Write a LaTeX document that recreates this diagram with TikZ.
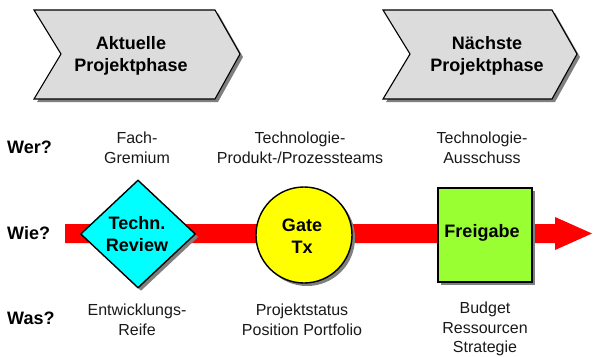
\documentclass[tikz,border=0pt]{standalone}
\usepackage{fontspec}
\setmainfont{Liberation Sans}
\usetikzlibrary{shapes.geometric}
\definecolor{chevgray}{HTML}{DCDCDC}
\definecolor{shadowgray}{HTML}{7F7F7F}
\definecolor{cyanfill}{HTML}{00FFFF}
\definecolor{yellowfill}{HTML}{FFFF00}
\definecolor{greenfill}{HTML}{99FF33}
\definecolor{redarrow}{HTML}{FF0000}
\tikzset{
  boldtxt/.style={font=\fontsize{18}{22}\selectfont\bfseries, align=center, inner sep=0pt},
  regtxt/.style={font=\fontsize{16}{20}\selectfont, align=center, inner sep=0pt, text=black!90},
  shadowed/.style={preaction={fill=shadowgray, transform canvas={shift={(3pt,-3pt)}}}},
  shapeline/.style={draw=black, line width=1.4pt},
}
\begin{document}
\begin{tikzpicture}[x=1pt,y=-1pt]
\useasboundingbox (0,0) rectangle (593,356);
% chevrons
\fill[shadowgray] (37,13) -- (218,13) -- (243,57) -- (218,102) -- (37,102) -- (64,57) -- cycle;
\draw[shapeline, line width=1.1pt, fill=chevgray] (34,10) -- (215,10) -- (240,54) -- (215,99) -- (34,99) -- (61,54) -- cycle;
\fill[shadowgray] (386,13) -- (555,13) -- (580,57) -- (555,102) -- (386,102) -- (413,57) -- cycle;
\draw[shapeline, line width=1.1pt, fill=chevgray] (383,10) -- (552,10) -- (577,54) -- (552,99) -- (383,99) -- (410,54) -- cycle;
\node[boldtxt] (phase1) at (131,56) {Aktuelle\\Projektphase};
\node[boldtxt] (phase2) at (487,56) {Nächste\\Projektphase};
% row labels
\node[boldtxt, anchor=west] (wer) at (7,147) {Wer?};
\node[boldtxt, anchor=west] (wie) at (7,233) {Wie?};
\node[boldtxt, anchor=west] (was) at (7,318) {Was?};
% who texts
\node[regtxt] (who1) at (137,148) {Fach-\\Gremium};
\node[regtxt] (who2) at (300,148) {Technologie-\\Produkt-/Prozessteams};
\node[regtxt] (who3) at (482,148) {Technologie-\\Ausschuss};
% red arrow
\fill[redarrow] (65,224) -- (555,224) -- (555,217) -- (592,233.5) -- (555,250) -- (555,243) -- (65,243) -- cycle;
% diamond
\node[diamond, shapeline, fill=cyanfill, shadowed, inner sep=0pt, aspect=1.05,
      minimum width=115pt, minimum height=108pt] (review) at (138,234) {};
\node[boldtxt] (reviewtxt) at (137,234) {Techn.\\Review};
% circle
\node[circle, shapeline, fill=yellowfill, shadowed, inner sep=0pt, minimum size=96pt] (gate) at (304,235) {};
\node[boldtxt] (gatetxt) at (302,236) {Gate\\Tx};
% square
\node[rectangle, shapeline, fill=greenfill, shadowed, inner sep=0pt, minimum size=94pt] (freigabe) at (485,235) {};
\node[boldtxt] (freigabetxt) at (482,233) {Freigabe};
% what texts
\node[regtxt] (what1) at (137,320) {Entwicklungs-\\Reife};
\node[regtxt] (what2) at (302,320) {Projektstatus\\Position Portfolio};
\node[regtxt, font=\fontsize{16}{19.5}\selectfont] (what3) at (485,329) {Budget\\Ressourcen\\Strategie};
\end{tikzpicture}
\end{document}
